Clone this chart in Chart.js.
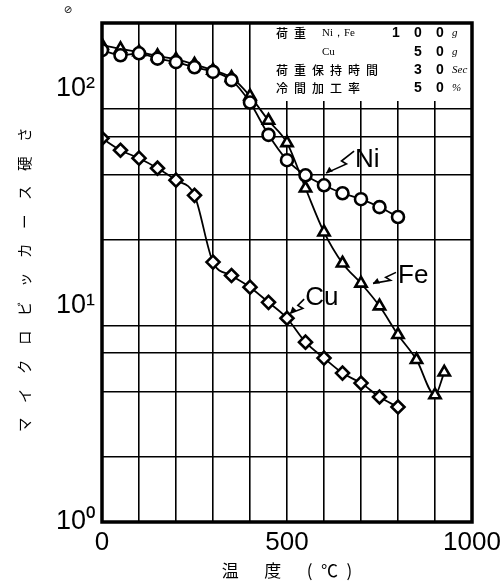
<!DOCTYPE html>
<html>
<head>
<meta charset="utf-8">
<script src="https://cdn.jsdelivr.net/npm/chart.js@4"></script>
<style>
html, body { margin: 0; padding: 0; background: #fff; }
#wrap { width: 502px; height: 586px; }
</style>
</head>
<body>
<div id="wrap"><canvas id="chart"></canvas></div>
<script>
// temperatures (°C) and micro Vickers hardness
var niTemp = [0, 50, 100, 150, 200, 250, 300, 350, 400, 450, 500, 550, 600, 650, 700, 750, 800];
var niHv = [150, 142, 145, 137, 132, 125, 119, 109, 86, 61, 46.6, 39.7, 35.7, 32.8, 30.8, 28.3, 25.5];

var feTemp = [0, 50, 100, 150, 200, 250, 300, 350, 400, 450, 500, 550, 600, 650, 700, 750, 800, 850, 900, 925];
var feHv = [158, 152, 147, 141, 136, 129, 121, 112, 92, 71, 56, 34.6, 21.7, 15.6, 12.6, 9.9, 7.3, 5.6, 3.85, 4.9];

var cuTemp = [0, 50, 100, 150, 200, 250, 300, 350, 400, 450, 500, 550, 600, 650, 700, 750, 800];
var cuHv = [58.8, 51.8, 47.6, 42.8, 37.7, 32.1, 15.8, 13.7, 12.1, 10.3, 8.7, 6.75, 5.7, 4.86, 4.37, 3.77, 3.39];

var xTickLabels = [0, 500, 1000];
var yTicks = [1, 2, 4, 6, 8, 10, 20, 40, 60, 80, 100, 200];
var yGrid = [2, 4, 6, 8, 20, 40, 60, 80];
var yTickLabels = { 1: '10\u2070', 10: '10\u00b9', 100: '10\u00b2' };

function pts(xs, ys) {
    return xs.map(function (x, i) { return { x: x, y: ys[i] }; });
}

// label, anchor (°C, Hv), arrow from/to in px relative to the anchor
var curveNotes = [
    { text: 'Ni', t: 684, hv: 43.3, from: [-1, -16], to: [-29, 6] },
    { text: 'Fe', t: 800, hv: 12.6, from: [-2, -11], to: [-25, 0] },
    { text: 'Cu', t: 549, hv: 10.0, from: [-1, -6], to: [-15, 8] }
];

var decor = {
    id: 'decor',
    beforeDatasetsDraw: function (chart) {
        var ctx = chart.ctx, a = chart.chartArea;
        ctx.save();
        ctx.fillStyle = '#fff';
        ctx.fillRect(a.left + 166, a.top, a.right - a.left - 166, 78);
        ctx.fillStyle = '#000';
        ctx.textBaseline = 'middle';
        var cjk = '"Noto Sans CJK JP", sans-serif';
        var rows = [
            { y: 10, cjk: '荷重', lat: 'Ni，Fe', num: ['1', '0', '0'], unit: 'g' },
            { y: 29, cjk: '', lat: 'Cu', num: ['', '5', '0'], unit: 'g' },
            { y: 47, cjk: '荷重保持時間', lat: '', num: ['', '3', '0'], unit: 'Sec' },
            { y: 65, cjk: '冷間加工率', lat: '', num: ['', '5', '0'], unit: '%' }
        ];
        rows.forEach(function (r) {
            var y = a.top + r.y;
            ctx.font = '500 12px ' + cjk;
            ctx.letterSpacing = '6px';
            ctx.textAlign = 'left';
            ctx.fillText(r.cjk, a.left + 174, y);
            ctx.letterSpacing = '0px';
            ctx.font = '11px "Liberation Serif", serif';
            ctx.fillText(r.lat, a.left + 220, y);
            ctx.font = 'bold 14px "Liberation Sans", sans-serif';
            ctx.textAlign = 'center';
            ctx.fillText(r.num[0], a.right - 76, y);
            ctx.fillText(r.num[1], a.right - 54, y);
            ctx.fillText(r.num[2], a.right - 32, y);
            ctx.font = 'italic 11px "Liberation Serif", serif';
            ctx.textAlign = 'left';
            ctx.fillText(r.unit, a.right - 20, y);
        });
        ctx.restore();
    },
    afterDraw: function (chart) {
        var ctx = chart.ctx, a = chart.chartArea;
        var xs = chart.scales.x, ys = chart.scales.y;
        ctx.save();
        ctx.strokeStyle = '#000';
        ctx.lineWidth = 3.5;
        ctx.strokeRect(a.left, a.top, a.right - a.left, a.bottom - a.top);

        ctx.fillStyle = '#000';
        ctx.lineWidth = 1.6;
        ctx.lineJoin = 'miter';
        curveNotes.forEach(function (n) {
            var px = xs.getPixelForValue(n.t), py = ys.getPixelForValue(n.hv);
            ctx.font = '26px "Liberation Sans", sans-serif';
            ctx.textAlign = 'left';
            ctx.textBaseline = 'alphabetic';
            ctx.fillText(n.text, px, py);
            // zigzag arrow
            var x0 = px + n.from[0], y0 = py + n.from[1];
            var x1 = px + n.to[0], y1 = py + n.to[1];
            var dx = x1 - x0, dy = y1 - y0;
            ctx.beginPath();
            ctx.moveTo(x0, y0);
            ctx.lineTo(x0 + dx * 0.45, y0 + dy * 0.45);
            ctx.lineTo(x0 + dx * 0.45 + 5, y0 + dy * 0.45 + 3);
            ctx.lineTo(x1, y1);
            ctx.stroke();
            var ang = Math.atan2(dy, dx);
            ctx.beginPath();
            ctx.moveTo(x1, y1);
            ctx.lineTo(x1 - 7 * Math.cos(ang - 0.45), y1 - 7 * Math.sin(ang - 0.45));
            ctx.lineTo(x1 - 7 * Math.cos(ang + 0.45), y1 - 7 * Math.sin(ang + 0.45));
            ctx.closePath();
            ctx.fill();
        });

        ctx.font = '10px "DejaVu Sans", sans-serif';
        ctx.textAlign = 'center';
        ctx.textBaseline = 'middle';
        ctx.fillText('\u2298', a.left - 34, a.top - 13);
        ctx.restore();
    }
};

var ctx1 = document.getElementById('chart').getContext('2d');
var chart1 = new Chart(ctx1, {
    type: 'line',
    data: {
        datasets: [{
            label: 'Ni',
            data: pts(niTemp, niHv),
            borderColor: '#000',
            borderWidth: 1.8,
            pointStyle: 'circle',
            pointRadius: 6,
            pointBorderWidth: 2.6,
            pointBorderColor: '#000',
            pointBackgroundColor: '#fff',
            cubicInterpolationMode: 'monotone'
        }, {
            label: 'Fe',
            data: pts(feTemp, feHv),
            borderColor: '#000',
            borderWidth: 1.8,
            pointStyle: 'triangle',
            pointRadius: 6.5,
            pointBorderWidth: 2.6,
            pointBorderColor: '#000',
            pointBackgroundColor: '#fff',
            cubicInterpolationMode: 'monotone'
        }, {
            label: 'Cu',
            data: pts(cuTemp, cuHv),
            borderColor: '#000',
            borderWidth: 1.8,
            pointStyle: 'rectRot',
            pointRadius: 6.5,
            pointBorderWidth: 2.6,
            pointBorderColor: '#000',
            pointBackgroundColor: '#fff',
            cubicInterpolationMode: 'monotone'
        }]
    },
    options: {
        responsive: true,
        maintainAspectRatio: false,
        animation: false,
        layout: { padding: { top: 23, right: 30, left: 0, bottom: 0 } },
        plugins: {
            legend: { display: false },
            tooltip: { enabled: false }
        },
        scales: {
            x: {
                type: 'linear',
                min: 0,
                max: 1000,
                afterFit: function (s) { s.height = 64; s.paddingLeft = 0; s.paddingRight = 0; },
                grid: {
                    drawTicks: false,
                    lineWidth: 1.6,
                    color: function (c) {
                        var v = c.tick && c.tick.value;
                        return (v > 0 && v < 1000) ? '#000' : 'rgba(0,0,0,0)';
                    }
                },
                border: { display: false },
                ticks: {
                    stepSize: 100,
                    autoSkip: false,
                    maxRotation: 0,
                    padding: 5,
                    color: '#000',
                    font: { family: '"Liberation Sans", sans-serif', size: 26 },
                    callback: function (v) { return xTickLabels.indexOf(v) >= 0 ? String(v) : ''; }
                },
                title: {
                    display: true,
                    text: '温\u2003\u2002度\u2003\u2002(\u2002℃\u2002)',
                    color: '#000',
                    font: { family: '"Noto Sans CJK JP", sans-serif', size: 17 },
                    padding: { top: 0, bottom: 5 }
                }
            },
            y: {
                type: 'logarithmic',
                min: 1,
                max: 200,
                afterFit: function (s) { s.width = 102; s.paddingTop = 0; s.paddingBottom = 0; },
                afterBuildTicks: function (s) {
                    s.ticks = yTicks.map(function (v) { return { value: v }; });
                },
                grid: {
                    drawTicks: false,
                    lineWidth: 1.6,
                    color: function (c) {
                        var v = c.tick && c.tick.value;
                        return yGrid.indexOf(v) >= 0 ? '#000' : 'rgba(0,0,0,0)';
                    }
                },
                border: { display: false },
                ticks: {
                    autoSkip: false,
                    padding: 7,
                    color: '#000',
                    font: { family: '"Liberation Sans", sans-serif', size: 27 },
                    callback: function (v) { return yTickLabels[v] || ''; }
                },
                title: {
                    display: true,
                    text: 'マ\u3000イ\u3000ク\u3000ロ\u3000ビ\u3000ッ\u3000カ\u3000ー\u3000ス\u3000硬\u3000さ\u3000',
                    color: '#000',
                    font: { family: '"Noto Sans CJK JP", sans-serif', size: 14.5 },
                    padding: { top: 16, bottom: 0 }
                }
            }
        }
    },
    plugins: [decor]
});
</script>
</body>
</html>
